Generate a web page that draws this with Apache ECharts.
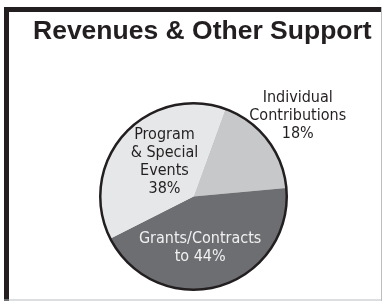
<!DOCTYPE html>
<html>
<head>
    <meta charset="utf-8">
    <title>Revenues & Other Support</title>
    <script src="https://cdn.jsdelivr.net/npm/echarts@6/dist/echarts.min.js"></script>
    <style>
        html, body { margin: 0; padding: 0; background: #fff; }
        #main { width: 383px; height: 301px; }
    </style>
</head>
<body>
    <div id="main"></div>
    <script type="text/javascript">
        // data
        var categories = ['Individual Contributions', 'Grants/Contracts', 'Program & Special Events'];
        var shares = [18, 44, 38];
        // how each label is broken into lines before the percentage
        var labelHeads = ['Individual\nContributions\n', 'Grants/Contracts\nto ', 'Program\n& Special\nEvents\n'];

        var fills = ['#c7c8ca', '#6d6e71', '#e6e7e8'];
        var textColors = ['#231f20', '#f1f1f2', '#231f20'];
        var labelShift = [[65, -50], [-7, 4], [8, -2]];

        var narrow = '"DejaVu Sans Condensed", "Liberation Sans Narrow", sans-serif';

        var myChart = echarts.init(document.getElementById('main'));

        var pieData = categories.map(function (name, i) {
            return {
                name: name,
                value: shares[i],
                itemStyle: { color: fills[i] },
                label: {
                    color: textColors[i],
                    offset: labelShift[i],
                    formatter: labelHeads[i] + shares[i] + '%'
                }
            };
        });

        var total = shares.reduce(function (a, b) { return a + b; }, 0);

        var option = {
            animation: false,
            title: {
                text: 'Revenues & Other Support',
                left: 28,
                top: 13,
                textStyle: {
                    fontFamily: '"Liberation Sans", Arial, sans-serif',
                    fontWeight: 'bold',
                    fontSize: 26.5,
                    color: '#231f20'
                }
            },
            graphic: [
                // frame: heavy top/left, thin grey right/bottom
                { type: 'rect', shape: { x: 4, y: 7, width: 378, height: 5 }, style: { fill: '#231f20' } },
                { type: 'rect', shape: { x: 4, y: 7, width: 5, height: 294 }, style: { fill: '#231f20' } },
                { type: 'rect', shape: { x: 381, y: 7, width: 1, height: 294 }, style: { fill: '#bcbec0' } },
                { type: 'rect', shape: { x: 4, y: 299.5, width: 378, height: 1 }, style: { fill: '#bcbec0' } }
            ],
            series: [
                {
                    type: 'pie',
                    center: [193.5, 196.5],
                    radius: [0, 93],
                    startAngle: 70,
                    clockwise: true,
                    silent: true,
                    label: {
                        show: true,
                        position: 'inside',
                        fontFamily: narrow,
                        fontSize: 16,
                        lineHeight: 18,
                        align: 'center'
                    },
                    labelLine: { show: false },
                    data: pieData
                },
                {
                    // outer rim
                    type: 'pie',
                    center: [193.5, 196.5],
                    radius: [92, 94.5],
                    silent: true,
                    label: { show: false },
                    labelLine: { show: false },
                    data: [{ value: total, itemStyle: { color: '#231f20' } }]
                }
            ]
        };
        myChart.setOption(option);
    </script>
</body>
</html>
